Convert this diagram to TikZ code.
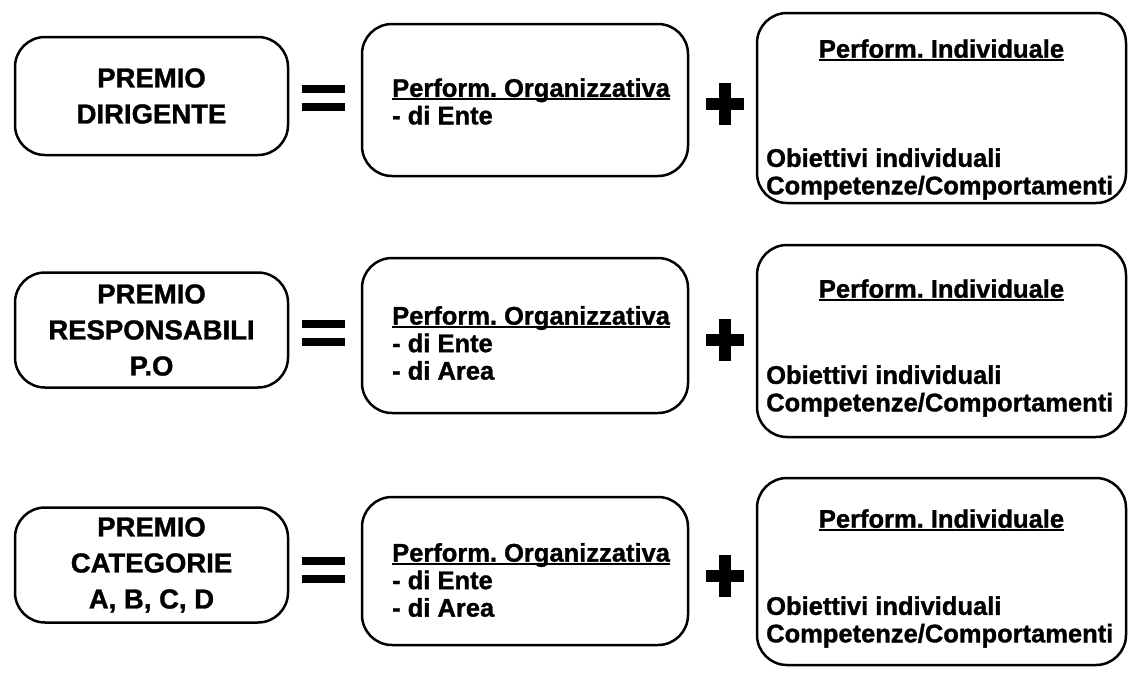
\documentclass[tikz,border=0pt]{standalone}
\usepackage{fontspec}
\setmainfont[BoldFeatures={FakeBold=1.2}]{Liberation Sans}
\usetikzlibrary{positioning}
\frenchspacing
\newcommand{\sottol}[1]{\setbox0\hbox{#1}\rlap{\rule[-3pt]{\wd0}{1.6pt}}\box0}
\tikzset{
  riquadro/.style={draw, line width=2.5pt, rounded corners=30pt, inner sep=0pt},
  titolo/.style={font=\bfseries\fontsize{27.5}{36}\selectfont, align=center},
  voce/.style={font=\bfseries\fontsize{25.5}{27.5}\selectfont, align=left, inner sep=0pt},
}
\begin{document}
\begin{tikzpicture}[x=1pt,y=-1pt]
\useasboundingbox (0,0) rectangle (1128,673);
% premio dirigente
\node[riquadro, titolo, minimum width=273, minimum height=118] (pd) at (151.5,96) {PREMIO\\DIRIGENTE};
\node[riquadro, minimum width=326, minimum height=152] (orgD) at (525,100) {};
\node[voce, anchor=west] (orgDt) at (392,101.5) {\sottol{Perform. Organizzativa}\\- di Ente};
\node[riquadro, minimum width=369, minimum height=190] (indD) at (941.5,108) {};
\node[voce] (indDt) at (941.5,50) {\sottol{Perform. Individuale}};
\node[voce, anchor=west] (indDo) at (766,174) {Obiettivi individuali\\Competenze/Comportamenti};
% premio responsabili P.O
\node[riquadro, titolo, minimum width=273, minimum height=115] (po) at (151.5,330) {PREMIO\\RESPONSABILI\\P.O};
\node[riquadro, minimum width=326, minimum height=155] (orgP) at (525,335.5) {};
\node[voce, anchor=west] (orgPt) at (392,343) {\sottol{Perform. Organizzativa}\\- di Ente\\- di Area};
\node[riquadro, minimum width=369, minimum height=192] (indP) at (941.5,341) {};
\node[voce] (indPt) at (941.5,290) {\sottol{Perform. Individuale}};
\node[voce, anchor=west] (indPo) at (766,391) {Obiettivi individuali\\Competenze/Comportamenti};
% premio categorie
\node[riquadro, titolo, minimum width=273, minimum height=115] (pc) at (151.5,565) {PREMIO\\CATEGORIE\\A, B, C, D};
\node[riquadro, minimum width=326, minimum height=148] (orgC) at (525,571) {};
\node[voce, anchor=west] (orgCt) at (392,580) {\sottol{Perform. Organizzativa}\\- di Ente\\- di Area};
\node[riquadro, minimum width=369, minimum height=187] (indC) at (941.5,571.5) {};
\node[voce] (indCt) at (941.5,520) {\sottol{Perform. Individuale}};
\node[voce, anchor=west] (indCo) at (766,622) {Obiettivi individuali\\Competenze/Comportamenti};
% segni = e +
\foreach \cy/\py in {98/104, 333/340, 570/576} {
  \fill (302,\cy-13) rectangle (345,\cy-5);
  \fill (302,\cy+5) rectangle (345,\cy+13);
  \fill (706,\py-6) rectangle (744,\py+6);
  \fill (719,\py-21) rectangle (731,\py+21);
}
\end{tikzpicture}
\end{document}
